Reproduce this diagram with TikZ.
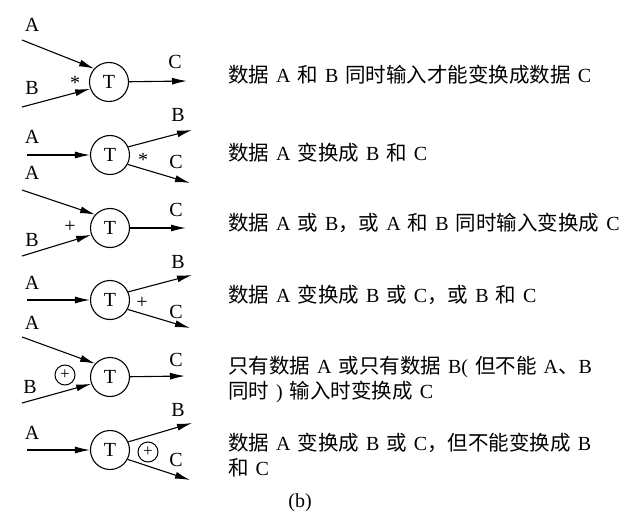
\documentclass[tikz,border=0pt]{standalone}
\usepackage{fontspec}
\setmainfont{Liberation Serif}
\newfontfamily\cjk{Noto Sans CJK SC}
\newcommand{\zh}[1]{{\cjk\fontsize{20.5}{25}\selectfont #1}}
\newcommand{\descfont}{\fontsize{20}{25.5}\selectfont\spaceskip=7pt plus 1pt\relax}
\usetikzlibrary{arrows.meta}
\tikzset{lbl/.style={font=\fontsize{20}{22}\selectfont,inner sep=0pt},
	desc/.style={anchor=west,inner sep=0pt,align=left,font=\descfont},
	oplus/.style={circle,draw,line width=1pt,minimum size=20pt,inner sep=0pt,
		font=\fontsize{17}{18}\selectfont}}

\begin{document}
\begin{tikzpicture}[x=1pt,y=-1pt]
		\useasboundingbox (0,0) rectangle (624,532);
		\begin{scope}[every node/.style={circle,draw,line width=1.1pt,minimum size=39pt,
			inner sep=0pt,font=\fontsize{20}{22}\selectfont}]
			\node (T1) at (109,82) {T};
			\node (T2) at (110,155) {T};
			\node (T3) at (110,228) {T};
			\node (T4) at (110,300) {T};
			\node (T5) at (110,377) {T};
			\node (T6) at (110,450) {T};
		\end{scope}
		% free ends of the arrows
		\coordinate (a1) at (22,40);  \coordinate (b1) at (22,107); \coordinate (c1) at (187,81);
		\coordinate (a2) at (27,155); \coordinate (b2) at (192,130); \coordinate (c2) at (190,183);
		\coordinate (a3) at (22,190); \coordinate (b3) at (22,256); \coordinate (c3) at (186,228);
		\coordinate (a4) at (27,300); \coordinate (b4) at (192,275); \coordinate (c4) at (190,328);
		\coordinate (a5) at (22,337); \coordinate (b5) at (22,403); \coordinate (c5) at (185,376);
		\coordinate (a6) at (27,450); \coordinate (b6) at (192,423); \coordinate (c6) at (190,480);
		\begin{scope}[>={Latex[length=15pt,width=7pt]},
			every edge/.style={draw,line width=1.1pt}]
			\path [->] (a1) edge (T1.138) (b1) edge (T1.200) (T1) edge (c1);
			\path [->] (a2) edge (T2) (T2.24) edge (b2) (T2.-28) edge (c2);
			\path [->] (a3) edge (T3.138) (b3) edge (T3.200) (T3) edge (c3);
			\path [->] (a4) edge (T4) (T4.24) edge (b4) (T4.-28) edge (c4);
			\path [->] (a5) edge (T5.138) (b5) edge (T5.200) (T5) edge (c5);
			\path [->] (a6) edge (T6) (T6.24) edge (b6) (T6.-28) edge (c6);
		\end{scope}
		\begin{scope}[every node/.style={lbl}]
			\node (la1) at (32,25) {A};  \node (lb1) at (32,88) {B};   \node (lc1) at (175,62) {C};
			\node (la2) at (32,137) {A}; \node (lb2) at (178,115) {B}; \node (lc2) at (176,162) {C};
			\node (la3) at (32,173) {A}; \node (lb3) at (32,240) {B};  \node (lc3) at (176,210) {C};
			\node (la4) at (32,283) {A}; \node (lb4) at (178,262) {B}; \node (lc4) at (176,312) {C};
			\node (la5) at (32,323) {A}; \node (lb5) at (30,387) {B};  \node (lc5) at (176,360) {C};
			\node (la6) at (32,433) {A}; \node (lb6) at (178,410) {B}; \node (lc6) at (176,460) {C};
			\node (s1) at (75,83) {*};
			\node (s2) at (143,160) {*};
			\node (p3) at (70,227) {+};
			\node (p4) at (142,303) {+};
		\end{scope}
		\node[oplus] (x5) at (65,375) {+};
		\node[oplus] (x6) at (148,452) {+};
		% what each case means
		\node[desc] (d1) at (228,75) {\zh{数据} A \zh{和} B \zh{同时输入才能变换成数据} C};
		\node[desc] (d2) at (228,153) {\zh{数据} A \zh{变换成} B \zh{和} C};
		\node[desc] (d3) at (228,223) {\zh{数据} A \zh{或} B\zh{，或} A \zh{和} B \zh{同时输入变换成} C};
		\node[desc] (d4) at (228,295) {\zh{数据} A \zh{变换成} B \zh{或} C\zh{，或} B \zh{和} C};
		\node[desc] (d5) at (228,379.5) {\zh{只有数据} A \zh{或只有数据} B( \zh{但不能} A\zh{、}B\\
			\zh{同时} ) \zh{输入时变换成} C};
		\node[desc] (d6) at (228,455) {\zh{数据} A \zh{变换成} B \zh{或} C\zh{，但不能变换成} B\\
			\zh{和} C};
		\node[lbl] (cap) at (300,503) {(b)};
	\end{tikzpicture}
\end{document}
